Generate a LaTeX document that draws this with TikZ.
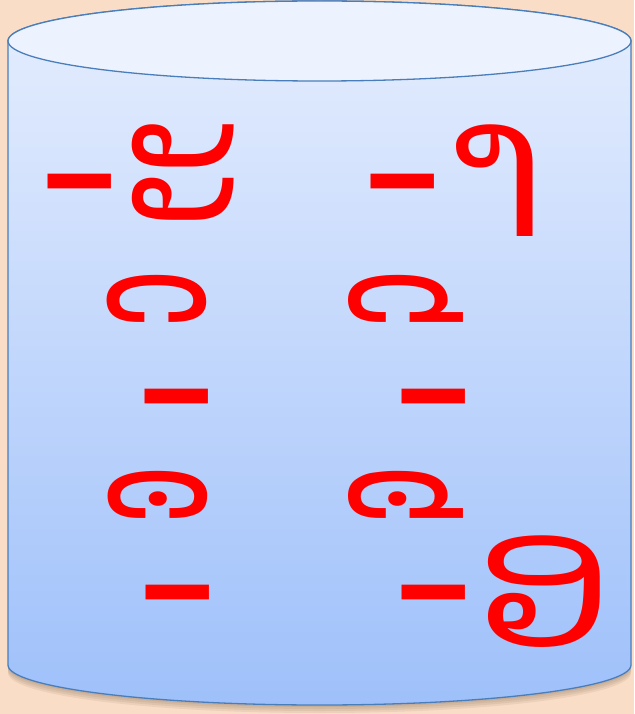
\documentclass[tikz,border=0pt]{standalone}
\usepackage{fontspec}
\newfontfamily\laofont[Script=Lao]{Dhyana}
\definecolor{peach}{RGB}{250,221,198}
\definecolor{tankline}{RGB}{74,126,187}
\definecolor{tanktop}{RGB}{230,238,254}
\definecolor{tankbottom}{RGB}{158,192,250}
\definecolor{lidfill}{RGB}{236,243,254}
\tikzset{
  tank/.style={draw=tankline,line width=1.3pt},
  vowel/.style={anchor=base,inner sep=0pt,text depth=0pt,text=red,
    font=\laofont\fontsize{192}{192}\selectfont}
}
\begin{document}
\begin{tikzpicture}[x=1pt,y=-1pt]
\fill[peach] (0,0) rectangle (634,714);
\useasboundingbox (0,0) rectangle (634,714);
% soft shadow under the tank
\foreach \s in {2,4,6,8}
  \fill[black!70!brown,opacity=0.07] (8,{41+\s}) -- (8,{665+\s})
    arc[start angle=180,end angle=360,x radius=311.5pt,y radius=40pt]
    -- (631,{41+\s}) -- cycle;
% body
\path[tank,top color=tanktop,bottom color=tankbottom] (8,41) -- (8,665)
  arc[start angle=180,end angle=360,x radius=311.5pt,y radius=40pt]
  -- (631,41) arc[start angle=0,end angle=180,x radius=311.5pt,y radius=40pt]
  -- cycle;
% lid
\draw[tank,fill=lidfill] (319.5,41) ellipse[x radius=311.5pt,y radius=40pt];
% vowels
\node[vowel] (sa) at (140,236) {-ະ};
\node[vowel] (aa) at (451,236) {-າ};
\node[vowel] (si) at (177,451) {-ິ};
\node[vowel] (sii) at (434,451) {-ີ};
\node[vowel] (sue) at (178,647) {-ຶ};
\node[vowel] (suea) at (500,647) {-ືອ};
\end{tikzpicture}
\end{document}
